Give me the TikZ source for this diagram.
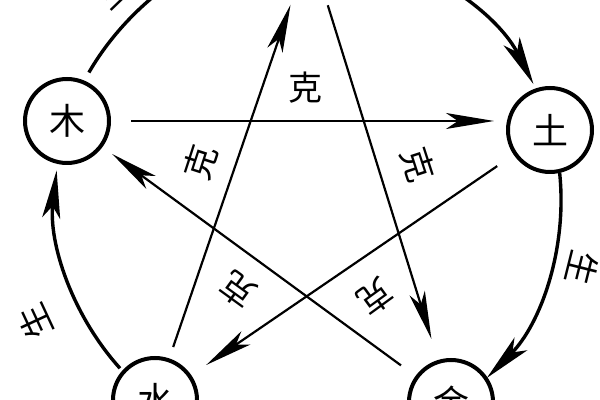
\documentclass[tikz,border=0pt]{standalone}
\usepackage{fontspec}
\newfontfamily\cjk{Noto Sans CJK SC}
\usetikzlibrary{arrows.meta,calc}
\begin{document}
\begin{tikzpicture}[x=0.5pt,y=-0.5pt,
  elem/.style={circle,draw,line width=2pt,minimum size=42pt,inner sep=0pt,font=\cjk\fontsize{18}{18}\selectfont},
  lbl/.style={font=\cjk\fontsize{17}{17}\selectfont,inner sep=0pt},
  ke/.style={line width=1.1pt,-{Stealth[length=24pt,width=8pt,inset=6pt]}},
  sheng/.style={line width=1.7pt,-{Stealth[length=24pt,width=9pt,inset=6pt]}}]
\useasboundingbox (0,0) rectangle (600,400);
\fill[white] (0,0) rectangle (600,400);
\clip (0,0) rectangle (600,400);
\coordinate (C) at (308,199);
% elements
\node[elem] (huo)  at (310,-52) {火};
\node[elem] (mu)   at (67,121)  {木};
\node[elem] (tu)   at (550,130) {土};
\node[elem] (shui) at (155,400) {水};
\node[elem] (jin)  at (451,402) {金};
% generation cycle (outer arcs)
\draw[sheng] ($(C)+(210:253)$) arc[start angle=210,end angle=258,radius=253];
\draw[sheng] ($(C)+(282:253)$) arc[start angle=282,end angle=333,radius=253];
\draw[sheng] ($(C)+(354:253)$) arc[start angle=354,end angle=405,radius=253];
\draw[sheng] ($(C)+(65:253)$) arc[start angle=65,end angle=117,radius=253];
\draw[sheng] ($(C)+(138:253)$) arc[start angle=138,end angle=186.5,radius=253];
% control cycle (star)
\draw[ke,shorten <=10pt,shorten >=6pt] (mu.east) -- (mu.east -| tu.west);
\draw[ke,shorten <=10pt,shorten >=9pt] (tu) -- (shui);
\draw[ke,shorten <=6pt,shorten >=8pt] (shui) -- (huo);
\draw[ke,shorten <=8pt,shorten >=11pt] (huo) -- (jin);
\draw[ke,shorten <=9pt,shorten >=6pt] (jin) -- (mu);
% labels
\node[lbl] (k1) at (305,88) {克};
\node[lbl,rotate=72] (k2) at (200,162) {克};
\node[lbl,rotate=-72] (k3) at (418,165) {克};
\node[lbl,rotate=144] (k4) at (238,290) {克};
\node[lbl,rotate=-144] (k5) at (375,297) {克};
\node[lbl,rotate=115] (s1) at (35,322) {生};
\node[lbl,rotate=-104] (s2) at (582,268) {生};
\node[lbl,rotate=44] (s3) at (112,-10) {生};
\end{tikzpicture}
\end{document}
